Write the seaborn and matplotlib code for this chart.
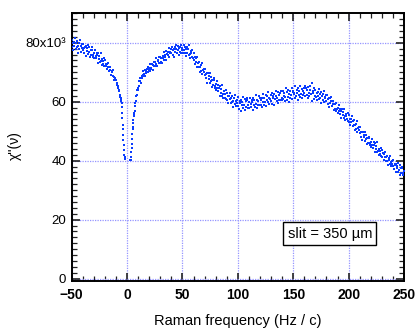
import numpy as np
import pandas as pd
import seaborn as sns
import matplotlib
matplotlib.use("Agg")
import matplotlib.pyplot as plt
from matplotlib.ticker import MultipleLocator

# Raman spectrum, chi''(nu) in units of 10^3, sampled every 0.5 Hz/c from -50 to 250
nan = np.nan
chi = [
    80.9, 78.4, 79.9, 77.5, 80.3, 78.9, 81.5, 77.8, 79.8, 78.5, 80.7, 76.7, 78.9, 79.9, 77.9, 81.1, 76.9, 78.8, 78.3, 79.5,
    77.5, 79.7, 76.5, 78.2, 78.7, 75.6, 78.9, 77.2, 78.1, 79.4, 76.2, 77.0, 78.5, 75.1, 77.6, 75.9, 77.7, 78.4, 75.3, 76.0,
    76.7, 74.8, 77.6, 75.6, 74.8, 76.5, 75.7, 73.3, 76.5, 74.4, 75.6, 73.4, 76.7, 73.9, 72.6, 74.6, 73.9, 72.8, 74.9, 72.2,
    74.0, 72.1, 72.9, 71.1, 72.7, 71.7, 73.2, 70.5, 71.8, 70.6, 71.9, 69.0, 70.2, 70.4, 68.7, 70.6, 67.5, 68.3, 67.6, 68.0,
    67.4, 65.8, 66.5, 64.7, 65.3, 63.6, 63.9, 62.4, 61.7, 60.6, 59.6, 56.3, 52.2, 48.7, 45.2, 41.8, 40.6, nan, nan, nan,
    nan, nan, nan, nan, nan, nan, 40.2, 41.3, 44.3, 47.2, 50.8, 52.7, 55.1, 56.2, 58.4, 59.7, 61.9, 62.2, 63.9, 64.0,
    64.8, 66.9, 65.4, 67.0, 68.0, 66.4, 68.9, 68.1, 69.1, 70.3, 68.6, 69.4, 70.6, 68.7, 70.5, 69.7, 71.1, 71.8, 70.0, 70.8,
    71.6, 70.4, 72.9, 71.5, 71.2, 72.8, 72.4, 70.8, 73.6, 72.2, 73.4, 72.0, 74.9, 72.9, 72.2, 74.1, 73.9, 73.2, 75.1, 73.3,
    75.3, 73.6, 74.9, 73.3, 75.6, 74.7, 76.9, 74.2, 76.0, 75.2, 77.1, 74.3, 76.2, 77.0, 75.7, 78.3, 75.3, 77.0, 76.7, 77.8,
    76.4, 78.6, 75.7, 77.4, 78.0, 75.3, 78.5, 77.0, 78.0, 79.4, 76.6, 77.4, 79.0, 76.0, 78.3, 76.9, 78.6, 79.4, 76.7, 77.5,
    78.3, 76.5, 79.4, 77.4, 76.7, 78.5, 77.8, 75.5, 78.7, 76.7, 78.0, 75.9, 79.1, 76.3, 75.0, 77.1, 76.4, 75.2, 77.4, 74.7,
    76.7, 74.3, 75.2, 72.9, 74.9, 73.5, 75.3, 71.9, 73.3, 71.9, 73.4, 70.0, 71.7, 72.3, 70.4, 73.0, 69.4, 70.8, 70.2, 71.0,
    69.1, 71.2, 67.9, 69.3, 69.7, 66.5, 69.6, 67.8, 68.6, 69.8, 66.4, 67.1, 68.5, 65.0, 67.4, 65.6, 67.3, 67.9, 64.7, 65.4,
    66.1, 63.9, 67.0, 64.7, 63.7, 65.6, 64.6, 62.0, 65.4, 63.0, 64.4, 62.1, 65.6, 62.6, 61.1, 63.5, 62.7, 61.4, 63.9, 60.9,
    63.1, 60.7, 61.9, 59.6, 62.1, 60.8, 63.0, 59.5, 61.3, 59.9, 61.8, 58.2, 60.3, 61.1, 59.2, 62.2, 58.4, 60.1, 59.6, 60.7,
    58.7, 61.5, 57.6, 59.7, 60.3, 56.7, 60.7, 58.8, 60.0, 61.5, 57.9, 58.9, 60.9, 57.1, 60.1, 58.3, 60.5, 61.4, 57.9, 58.9,
    59.9, 57.8, 61.4, 59.2, 58.3, 60.7, 59.9, 57.2, 61.3, 58.9, 60.6, 58.3, 62.3, 59.3, 58.0, 60.6, 60.1, 58.9, 61.8, 58.8,
    61.4, 59.0, 60.6, 58.3, 61.2, 59.9, 62.6, 59.0, 61.1, 59.9, 62.2, 58.4, 60.7, 61.8, 59.9, 63.3, 59.2, 61.3, 60.8, 62.2,
    60.3, 62.9, 59.4, 61.4, 62.0, 58.9, 62.6, 60.9, 62.0, 63.7, 60.3, 61.4, 63.2, 59.6, 62.4, 60.7, 62.8, 63.6, 60.5, 61.4,
    60.6, 63.7, 60.9, 62.1, 62.8, 60.2, 61.6, 64.7, 60.7, 63.2, 61.5, 64.0, 60.0, 62.7, 63.6, 61.3, 62.3, 64.5, 60.9, 63.2,
    63.8, 62.6, 63.1, 61.1, 65.3, 62.0, 64.0, 63.0, 60.7, 64.7, 62.4, 63.8, 61.7, 65.4, 62.7, 64.2, 61.3, 63.7, 62.2, 64.7,
    62.9, 61.9, 65.4, 64.5, 62.3, 64.1, 61.1, 64.9, 62.9, 61.9, 65.5, 63.9, 62.6, 66.4, 60.4, 63.8, 63.1, 61.0, 64.7, 61.9,
    63.9, 61.5, 62.9, 60.6, 63.2, 61.9, 64.2, 60.8, 62.7, 61.3, 63.3, 59.7, 61.8, 62.6, 60.7, 63.7, 59.9, 61.6, 61.1, 62.2,
    60.4, 62.4, 59.3, 60.8, 61.1, 58.3, 61.2, 59.6, 60.3, 61.5, 58.5, 59.1, 60.4, 57.2, 59.3, 57.7, 59.2, 59.7, 56.8, 57.4,
    58.0, 56.1, 58.9, 56.8, 55.9, 57.7, 56.8, 54.4, 57.6, 55.4, 56.6, 54.5, 57.7, 55.0, 53.7, 55.8, 55.1, 54.0, 56.1, 53.5,
    55.5, 53.2, 54.3, 52.1, 54.3, 53.0, 55.0, 51.7, 53.3, 52.0, 53.7, 50.3, 52.0, 52.5, 50.7, 53.3, 49.6, 51.0, 50.4, 51.3,
    49.4, 51.3, 48.2, 49.6, 49.8, 46.9, 49.8, 48.1, 48.8, 49.8, 46.8, 47.4, 48.8, 45.6, 47.7, 46.1, 47.6, 48.2, 45.3, 45.9,
    46.5, 44.6, 47.4, 45.3, 44.4, 46.2, 45.3, 42.9, 46.1, 43.9, 45.1, 42.9, 46.2, 43.4, 42.1, 44.1, 43.4, 42.3, 44.4, 41.7,
    43.7, 41.4, 42.5, 40.3, 42.4, 41.1, 43.1, 39.8, 41.4, 40.0, 41.7, 38.4, 40.1, 40.8, 39.0, 41.7, 38.1, 39.6, 39.0, 40.0,
    38.2, 40.2, 37.1, 38.6, 38.9, 36.1, 39.0, 37.4, 38.1, 39.3, 36.3, 37.0, 38.4, 35.2, 37.4, 35.9, 37.5, 38.0, 35.2, 35.9,
    36.4,
]
freq = np.arange(-50, 250.25, 0.5)

# extra points on the two flanks of the notch around 0
dip_freq = [-5.8, -5.3, -4.8, -4.3, -3.8, -3.3, -2.8, -2.3,
            3.2, 3.7, 4.2, 4.7, 5.2, 5.7, 6.2, 6.7, 7.2, 7.7]
dip_chi = [61.4, 60.2, 58.3, 54.4, 50.7, 47.1, 43.6, 41.3,
           40.4, 42.8, 45.6, 48.9, 51.6, 53.7, 55.4, 57.0, 58.6, 60.3]

y_ticks = [0, 20, 40, 60, 80]
y_labels = ["0", "20", "40", "60", "80x10\u00b3"]
x_ticks = [-50, 0, 50, 100, 150, 200, 250]

df = pd.DataFrame({"freq": np.concatenate([freq, dip_freq]),
                   "chi": np.concatenate([chi, dip_chi])}).dropna()

sns.set_style("ticks")
plt.rcParams["font.family"] = ["Liberation Sans", "DejaVu Sans"]
plt.rcParams["text.color"] = "black"
plt.rcParams["axes.labelcolor"] = "black"
plt.rcParams["xtick.labelcolor"] = "black"
plt.rcParams["ytick.labelcolor"] = "black"

fig = plt.figure(figsize=(4.16, 3.30), dpi=100)
ax = fig.add_axes([0.1724, 0.1494, 0.9712 - 0.1724, 0.9615 - 0.1494])

sns.scatterplot(data=df, x="freq", y="chi", ax=ax, marker="s", s=1.5,
                linewidth=0, color="#0a3cff", zorder=3)

ax.set_xlim(-50, 250)
ax.set_ylim(-0.7, 90.2)
ax.set_xticks(x_ticks)
ax.set_yticks(y_ticks)
ax.set_yticklabels(y_labels)
ax.xaxis.set_minor_locator(MultipleLocator(10))
ax.yaxis.set_minor_locator(MultipleLocator(2))
ax.grid(True, which="major", color="#9595ff", linestyle=(0, (1, 1)),
        linewidth=0.9)
ax.set_axisbelow(True)

for side in ax.spines.values():
    side.set_linewidth(1.4)
    side.set_color("black")
ax.tick_params(which="both", direction="in", top=True, right=True,
               color="#222222", labelcolor="black")
ax.tick_params(which="major", length=6, width=1.2)
ax.tick_params(which="minor", length=3.5, width=0.9)
ax.tick_params(axis="y", labelsize=9.5, pad=4)
ax.tick_params(axis="x", labelsize=10, pad=5)
for lab in ax.get_xticklabels():
    lab.set_fontweight("bold")

ax.set_xlabel("Raman frequency (Hz / c)", fontsize=10.5, color="black")
ax.xaxis.set_label_coords(0.5, -0.178)
ax.xaxis.label.set_va("bottom")
ax.set_ylabel("\u03c7''(\u03bd)", fontsize=10, color="black")
ax.yaxis.set_label_coords(-0.149, 0.505)

ax.text(183, 15.3, "slit = 350 \u00b5m", fontsize=10.5, ha="center",
        va="center", zorder=5, color="black",
        bbox=dict(boxstyle="square,pad=0.3", fc="white", ec="black", lw=1))

fig.savefig("out.png", dpi=100)
